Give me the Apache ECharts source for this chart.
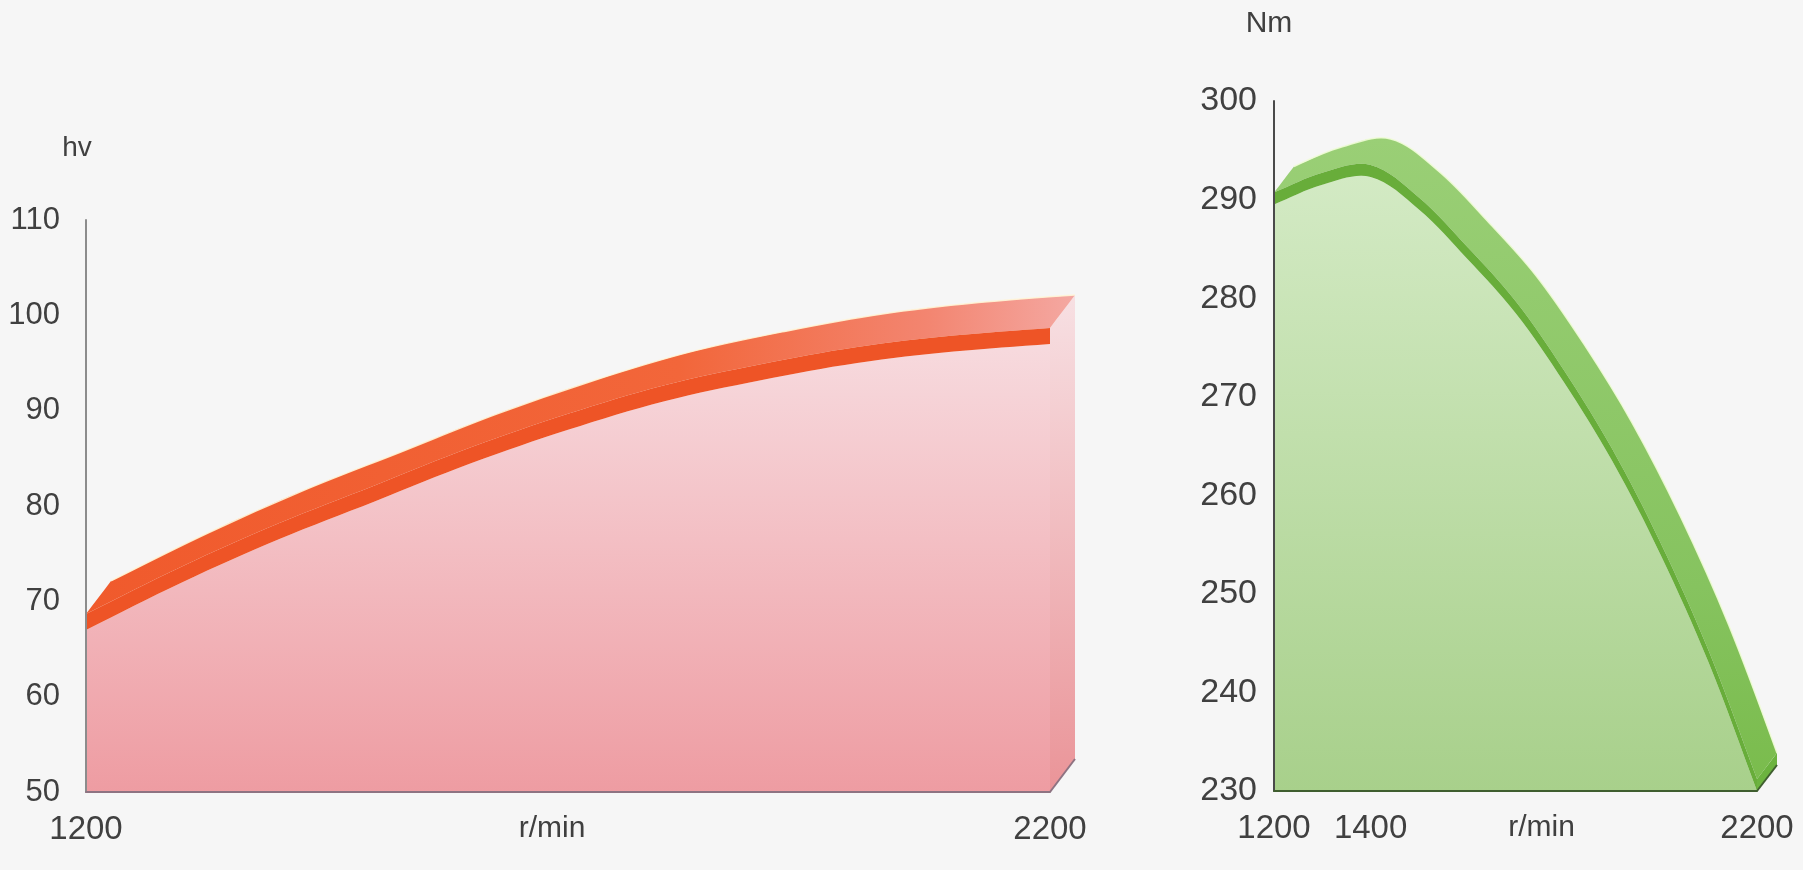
<!DOCTYPE html>
<html>
<head>
<meta charset="utf-8">
<script src="https://cdn.jsdelivr.net/npm/echarts@6/dist/echarts.min.js"></script>
<style>
  html, body { margin: 0; padding: 0; background: #f6f6f6; }
  #chart { width: 1803px; height: 870px; }
</style>
</head>
<body>
<div id="chart"></div>
<script>
// ---------------- data ----------------
const rpm = [1200, 1300, 1400, 1500, 1600, 1700, 1800, 1900, 2000, 2100, 2200];
const powerHv = [67, 72, 76.5, 80.5, 84.5, 88, 91, 93.2, 95, 96.2, 97];
const torqueNm = [289.5, 291.5, 292.3, 289, 284, 278.5, 271.5, 263.5, 254, 243, 230];

const powerYLabels = [50, 60, 70, 80, 90, 100, 110];
const torqueYLabels = [230, 240, 250, 260, 270, 280, 290, 300];
const powerXLabels = [1200, 2200];
const torqueXLabels = [1200, 1400, 2200];
const xStep = 100;

// ---------------- styling ----------------
const FONT = '"Liberation Sans", Arial, sans-serif';
const TXT = '#404040';
const LG = echarts.graphic.LinearGradient;

const redLook = {
  dx: 25, dy: 33, t: 16,
  front: new LG(0, 0, 0, 1, [{offset: 0, color: '#f7dade'}, {offset: 1, color: '#ee9ca2'}]),
  side: new LG(0, 0, 0, 1, [{offset: 0, color: '#f7e0e3'}, {offset: 1, color: '#ea9498'}]),
  strip: '#ee5426',
  top: new LG(0, 0, 1, 0, [
    {offset: 0, color: '#f05a2c'}, {offset: 0.6, color: '#f2663a'},
    {offset: 0.85, color: '#f38570'}, {offset: 1, color: '#f4a8a2'}]),
  glint: 'rgba(255,245,215,0.9)',
  edge: '#8e7382'
};
const greenLook = {
  dx: 20, dy: 26, t: 12,
  front: new LG(0, 0, 0, 1, [{offset: 0, color: '#d3eac4'}, {offset: 1, color: '#a8d08b'}]),
  side: '#6cb33f',
  strip: '#68ad3a',
  top: new LG(0, 0, 0, 1, [{offset: 0, color: '#9acf76'}, {offset: 0.7, color: '#86c35f'}, {offset: 1, color: '#7abc4d'}]),
  glint: 'rgba(240,252,215,0.9)',
  edge: '#3f5e2f'
};

// Extruded area drawn from the data points through the axis scales.
function solidRenderer(xs, ys, yMin, look) {
  const S = 0.35;
  return function (params, api) {
    if (params.dataIndex !== 0) return null;
    const P = xs.map((x, i) => api.coord([x, ys[i]]));
    const yb = api.coord([xs[0], yMin])[1];
    const n = P.length - 1;
    const dx = look.dx, dy = look.dy, t = look.t;
    const sh = (ox, oy) => P.map(p => [p[0] + ox, p[1] + oy]);
    const A = sh(0, -t);
    const B = sh(dx, -t - dy);
    const ends = arr => [arr[0]].concat(arr, [arr[arr.length - 1]]);
    const rev = arr => arr.slice().reverse();
    const x0 = P[0][0], xe = P[n][0], ye = P[n][1];
    const front = ends(P).concat([[xe, yb], [xe, yb], [x0, yb], [x0, yb]]);
    const strip = ends(P).concat(ends(rev(A)));
    const top = ends(A).concat(ends(rev(B)));
    const side = [[xe, yb], [xe, ye - t], [xe + dx, ye - t - dy], [xe + dx, yb - dy]];
    return {
      type: 'group',
      children: [
        {type: 'polygon', shape: {points: side}, style: {fill: look.side}},
        {type: 'polygon', shape: {points: top, smooth: S}, style: {fill: look.top}},
        {type: 'polygon', shape: {points: front, smooth: S}, style: {fill: look.front}},
        {type: 'polygon', shape: {points: strip, smooth: S}, style: {fill: look.strip}},
        {type: 'polyline', shape: {points: B, smooth: S}, style: {stroke: look.glint, lineWidth: 1.5, fill: null}},
        {type: 'line', shape: {x1: xe, y1: yb, x2: xe + dx, y2: yb - dy}, style: {stroke: look.edge, lineWidth: 2}}
      ]
    };
  };
}

function xAxisCfg(idx, labels, lineColor, namePad) {
  return {
    type: 'value', gridIndex: idx, z: 10,
    min: rpm[0], max: rpm[rpm.length - 1], interval: xStep,
    axisLine: {show: true, lineStyle: {color: lineColor, width: 2}},
    axisTick: {show: false}, splitLine: {show: false},
    axisLabel: {
      margin: 21, fontSize: 33, color: TXT, fontFamily: FONT,
      formatter: v => labels.indexOf(v) >= 0 ? String(v) : ''
    },
    name: 'r/min', nameLocation: 'middle', nameGap: 22, nameMoveOverlap: false,
    nameTextStyle: {fontSize: 30, color: TXT, fontFamily: FONT, padding: namePad}
  };
}
function yAxisCfg(idx, labels, lineColor, name, gap, margin, fs, nameFs, namePad) {
  return {
    type: 'value', gridIndex: idx, z: 10,
    min: labels[0], max: labels[labels.length - 1], interval: labels[1] - labels[0],
    axisLine: {show: true, lineStyle: {color: lineColor, width: 2}},
    axisTick: {show: false}, splitLine: {show: false},
    axisLabel: {margin: margin, fontSize: fs, color: TXT, fontFamily: FONT},
    name: name, nameLocation: 'end', nameGap: gap, nameMoveOverlap: false,
    nameTextStyle: {fontSize: nameFs, color: TXT, fontFamily: FONT, padding: namePad}
  };
}

const chart = echarts.init(document.getElementById('chart'), null, {renderer: 'canvas'});
chart.setOption({
  backgroundColor: '#f6f6f6',
  animation: false,
  grid: [
    {left: 86, top: 220, width: 964, height: 572, outerBoundsMode: 'none', containLabel: false},
    {left: 1274, top: 101, width: 483, height: 690, outerBoundsMode: 'none', containLabel: false}
  ],
  xAxis: [
    xAxisCfg(0, powerXLabels, '#8e7382', [0, 32, 0, 0]),
    xAxisCfg(1, torqueXLabels, '#3f5e2f', [0, 0, 0, 52])
  ],
  yAxis: [
    yAxisCfg(0, powerYLabels, '#8c8c8c', 'hv', 58, 26, 31, 28, [0, 18, 0, 0]),
    yAxisCfg(1, torqueYLabels, '#4a4a4a', 'Nm', 62, 17, 34, 30, [0, 10, 0, 0])
  ],
  series: [
    {
      type: 'custom', xAxisIndex: 0, yAxisIndex: 0, clip: false,
      data: rpm.map((r, i) => [r, powerHv[i]]),
      renderItem: solidRenderer(rpm, powerHv, powerYLabels[0], redLook)
    },
    {
      type: 'custom', xAxisIndex: 1, yAxisIndex: 1, clip: false,
      data: rpm.map((r, i) => [r, torqueNm[i]]),
      renderItem: solidRenderer(rpm, torqueNm, torqueYLabels[0], greenLook)
    }
  ]
});
</script>
</body>
</html>
